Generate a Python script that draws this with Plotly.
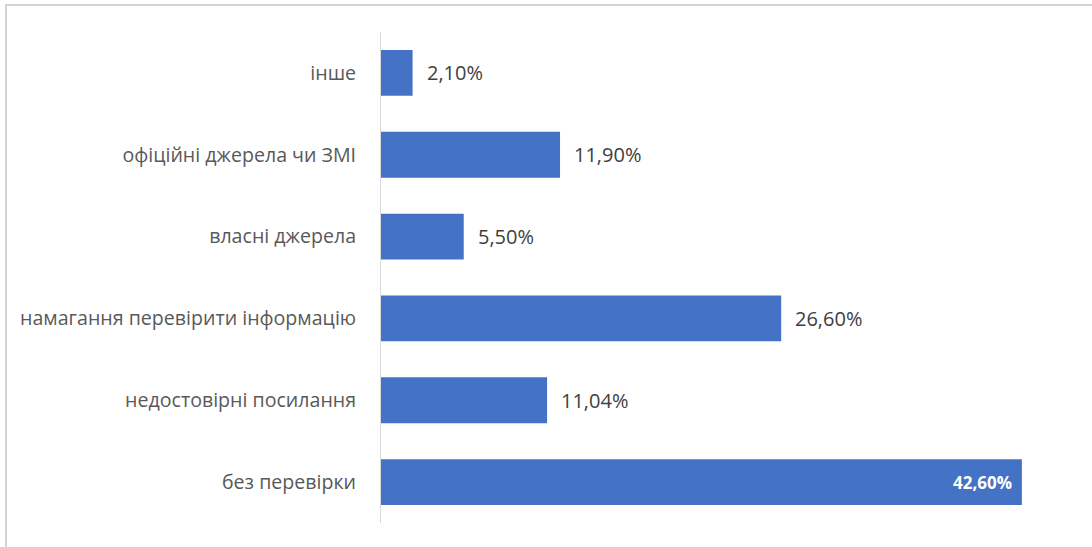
import plotly.graph_objects as go

categories = ["інше", "офіційні джерела чи ЗМІ", "власні джерела",
              "намагання перевірити інформацію", "недостовірні посилання", "без перевірки"]
values = [2.10, 11.90, 5.50, 26.60, 11.04, 42.60]
labels = ["2,10%", "11,90%", "5,50%", "26,60%", "11,04%", "42,60%"]
inside = [False, False, False, False, False, True]

BAR = "#4472c4"
TXT = "#595959"
FONT = "Open Sans"

fig = go.Figure()
fig.add_trace(go.Bar(
    x=values, y=categories, orientation="h",
    marker=dict(color=BAR, line=dict(width=0)),
    hoverinfo="skip",
))

annotations = []
for c, v, lab, ins in zip(categories, values, labels, inside):
    if ins:
        annotations.append(dict(x=v, y=c, xref="x", yref="y", text="<b>" + lab + "</b>",
                                showarrow=False, xanchor="right", xshift=-8,
                                font=dict(family=FONT, size=17, color="white")))
    else:
        annotations.append(dict(x=v, y=c, xref="x", yref="y", text=lab,
                                showarrow=False, xanchor="left", xshift=12,
                                font=dict(family=FONT, size=20, color="#404040")))

W, H = 1092, 547
ml, mr, mt, mb = 381, 34, 32, 24
pw = W - ml - mr
ph = H - mt - mb

def px_x(p):
    return (p - ml) / pw

def px_y(p):
    return (H - mb - p) / ph

shapes = [
    dict(type="line", xref="paper", yref="paper", x0=px_x(5), x1=px_x(W), y0=px_y(5), y1=px_y(5),
         line=dict(color="#d4d4d4", width=2)),
    dict(type="line", xref="paper", yref="paper", x0=px_x(6), x1=px_x(6), y0=px_y(5), y1=px_y(H),
         line=dict(color="#d4d4d4", width=2)),
]

fig.update_layout(
    width=W, height=H,
    margin=dict(l=ml, r=mr, t=mt, b=mb),
    paper_bgcolor="white", plot_bgcolor="white",
    bargap=0.44,
    showlegend=False,
    annotations=annotations,
    shapes=shapes,
    xaxis=dict(range=[0, 45], showgrid=False, zeroline=False, showticklabels=False,
               showline=False, fixedrange=True),
    yaxis=dict(autorange="reversed", showgrid=False, zeroline=False,
               showline=True, linecolor="#d9d9d9", linewidth=1,
               ticks="", ticklabelstandoff=20,
               tickfont=dict(family=FONT, size=19.6, color=TXT)),
    font=dict(family=FONT),
)

fig.write_html("out.html", config={"displayModeBar": False},
               post_script="document.body.style.margin='0';document.body.style.overflow='hidden';")
